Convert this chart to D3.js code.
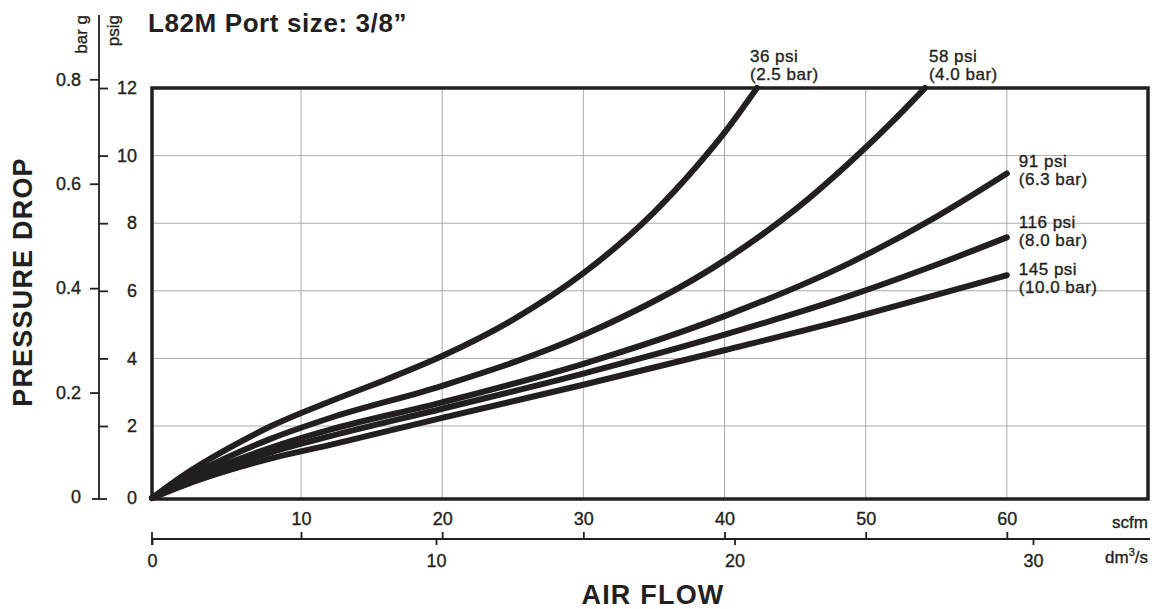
<!DOCTYPE html>
<html>
<head>
<meta charset="utf-8">
<script src="https://cdn.jsdelivr.net/npm/d3@7"></script>
<style>
  body { margin: 0; background: #fff; }
  text { font-family: "Liberation Sans", Arial, Helvetica, sans-serif; fill: #231f20; }
  .medium { stroke: #231f20; stroke-width: 0.35px; }
</style>
</head>
<body>
<svg id="chart" width="1152" height="609"></svg>
<script>
// curve names and their bar equivalents
var pressures = ["36 psi", "58 psi", "91 psi", "116 psi", "145 psi"];
var barNames = ["(2.5 bar)", "(4.0 bar)", "(6.3 bar)", "(8.0 bar)", "(10.0 bar)"];

// air flow (scfm) vs pressure drop (psig)
var flow36 = [0, 2, 5, 8, 12, 16, 20, 25, 30, 35, 38, 40, 42.3];
var drop36 = [0, 0.6, 1.35, 2.0, 2.72, 3.37, 4.07, 5.14, 6.52, 8.32, 9.67, 10.68, 12];

var flow58 = [0, 2, 5, 8, 12, 20, 30, 40, 45, 49, 52, 54.2];
var drop58 = [0, 0.5, 1.12, 1.65, 2.23, 3.19, 4.69, 6.9, 8.4, 9.85, 11.05, 12];

var flow91 = [0, 2, 5, 8, 12, 20, 30, 40, 49, 55, 60];
var drop91 = [0, 0.42, 0.95, 1.4, 1.89, 2.70, 3.84, 5.25, 6.85, 8.19, 9.47];

var flow116 = [0, 2, 5, 8, 12, 20, 30, 40, 49, 55, 60];
var drop116 = [0, 0.38, 0.86, 1.27, 1.71, 2.51, 3.55, 4.70, 5.87, 6.77, 7.58];

var flow145 = [0, 2, 5, 8, 12, 20, 30, 40, 49, 55, 60];
var drop145 = [0, 0.33, 0.75, 1.1, 1.47, 2.24, 3.22, 4.24, 5.19, 5.88, 6.46];

// axis ticks
var psigTicks = [0, 2, 4, 6, 8, 10, 12];
var barTicks = [0, 0.2, 0.4, 0.6, 0.8];
var scfmTicks = [10, 20, 30, 40, 50, 60];
var dm3Ticks = [0, 10, 20, 30];

//////////////////////////////////////////////////////////////////////////////

var svg = d3.select("#chart");
var ink = "#231f20";

var frame = { left: 152, right: 1148, top: 88, bottom: 499 };

// the printed scales are not quite linear, so anchor them where the scan puts them
var x = d3.scaleLinear().domain([0, 10, 70]).range([frame.left, 301, frame.right]);
var y = d3.scaleLinear().domain([0, 2, 12]).range([498, 426, frame.top]);
var yBar = d3.scaleLinear().domain([0, 0.8]).range([497, 79.3]);
var xDm3 = d3.scaleLinear().domain([0, 10, 30]).range([frame.left, 436, 1033]);

var series = [
  { flow: flow36, drop: drop36 },
  { flow: flow58, drop: drop58 },
  { flow: flow91, drop: drop91 },
  { flow: flow116, drop: drop116 },
  { flow: flow145, drop: drop145 }
];
series.forEach(function(s, i){
  s.name = pressures[i];
  s.bar = barNames[i];
  s.points = s.flow.map(function(f, j){ return [f, s.drop[j]]; });
});

// grid
svg.append("g").selectAll("line")
    .data(scfmTicks)
    .enter().append("line")
    .attr("x1", function(d){ return x(d); })
    .attr("x2", function(d){ return x(d); })
    .attr("y1", frame.top)
    .attr("y2", frame.bottom)
    .attr("stroke", "#a7a9ac")
    .attr("stroke-width", 1);

svg.append("g").selectAll("line")
    .data(psigTicks.filter(function(d){ return d > 0 && d < 12; }))
    .enter().append("line")
    .attr("x1", frame.left)
    .attr("x2", frame.right)
    .attr("y1", function(d){ return y(d); })
    .attr("y2", function(d){ return y(d); })
    .attr("stroke", "#a7a9ac")
    .attr("stroke-width", 1);

// curves
var line = d3.line()
    .x(function(d){ return x(d[0]); })
    .y(function(d){ return y(d[1]); })
    .curve(d3.curveMonotoneX);

svg.append("g").selectAll("path")
    .data(series)
    .enter().append("path")
    .attr("d", function(d){ return line(d.points); })
    .attr("fill", "none")
    .attr("stroke", ink)
    .attr("stroke-width", 6)
    .attr("stroke-linecap", "round");

// frame
svg.append("rect")
    .attr("x", frame.left)
    .attr("y", frame.top)
    .attr("width", frame.right - frame.left)
    .attr("height", frame.bottom - frame.top)
    .attr("fill", "none")
    .attr("stroke", ink)
    .attr("stroke-width", 3.5);

// curve labels: the two steep ones above the frame, the rest to the right
var labelPos = [
  { dx: -7, top: true },
  { dx: 4, top: true },
  { dx: 12, dy: -7 },
  { dx: 12, dy: -9 },
  { dx: 12, dy: 0 }
];

var labels = svg.append("g").selectAll("text")
    .data(series)
    .enter().append("text")
    .attr("class", "medium")
    .style("font-size", "17px")
    .style("letter-spacing", "0.5px")
    .attr("transform", function(d, i){
      var end = d.points[d.points.length - 1];
      var p = labelPos[i];
      var lx = x(end[0]) + p.dx;
      var ly = p.top ? 62 : y(end[1]) + p.dy;
      return "translate(" + lx + "," + ly + ")";
    });
labels.append("tspan").attr("x", 0).attr("y", 0).text(function(d){ return d.name; });
labels.append("tspan").attr("x", 0).attr("y", 18).text(function(d){ return d.bar; });

// left axes: bar g on the left of the rule, psig on the right
var axisX = 99;
svg.append("line")
    .attr("x1", axisX).attr("x2", axisX)
    .attr("y1", 15).attr("y2", 499)
    .attr("stroke", ink).attr("stroke-width", 1.8);
svg.append("line")
    .attr("x1", 92).attr("x2", 107)
    .attr("y1", 499).attr("y2", 499)
    .attr("stroke", ink).attr("stroke-width", 1.8);

var psigAxis = svg.append("g")
    .attr("transform", "translate(" + axisX + ",0)")
    .call(d3.axisRight(y).tickValues(psigTicks).tickSize(9).tickFormat(d3.format("d")));
psigAxis.select(".domain").remove();
psigAxis.selectAll(".tick").filter(function(d){ return d === 0; }).select("line").remove();
psigAxis.selectAll(".tick line").attr("stroke", ink).attr("stroke-width", 1.8);
psigAxis.selectAll(".tick text")
    .attr("x", 38)
    .attr("text-anchor", "end");

var barAxis = svg.append("g")
    .attr("transform", "translate(" + axisX + ",0)")
    .call(d3.axisLeft(yBar).tickValues(barTicks).tickSize(9).tickPadding(9).tickFormat(function(d){ return d === 0 ? "0" : d3.format(".1f")(d); }));
barAxis.select(".domain").remove();
barAxis.selectAll(".tick").filter(function(d){ return d === 0; }).select("line").remove();
barAxis.selectAll(".tick line").attr("stroke", ink).attr("stroke-width", 1.8);

// bottom axes: scfm above the rule, dm3/s below it
var axisY = 539;
svg.append("line")
    .attr("x1", frame.left).attr("x2", 1150)
    .attr("y1", axisY).attr("y2", axisY)
    .attr("stroke", ink).attr("stroke-width", 1.8);
svg.append("line")
    .attr("x1", frame.left).attr("x2", frame.left)
    .attr("y1", 532).attr("y2", 545)
    .attr("stroke", ink).attr("stroke-width", 1.8);

var scfmAxis = svg.append("g")
    .attr("transform", "translate(0," + axisY + ")")
    .call(d3.axisTop(x).tickValues(scfmTicks).tickSize(7).tickPadding(7));
scfmAxis.select(".domain").remove();
scfmAxis.selectAll(".tick line").attr("stroke", ink).attr("stroke-width", 1.8);

var dm3Axis = svg.append("g")
    .attr("transform", "translate(0," + axisY + ")")
    .call(d3.axisBottom(xDm3).tickValues(dm3Ticks).tickSize(6).tickPadding(9));
dm3Axis.select(".domain").remove();
dm3Axis.selectAll(".tick line").attr("stroke", ink).attr("stroke-width", 1.8);

svg.selectAll(".tick text")
    .attr("class", "medium")
    .attr("fill", ink)
    .style("font-size", "18px")
    .style("font-family", "\"Liberation Sans\", Arial, sans-serif");

// unit labels
svg.append("text")
    .attr("class", "medium")
    .attr("x", 1148).attr("y", 528)
    .attr("text-anchor", "end")
    .style("font-size", "17px")
    .text("scfm");

var dm3Label = svg.append("text")
    .attr("class", "medium")
    .attr("x", 1148).attr("y", 563)
    .attr("text-anchor", "end")
    .style("font-size", "17px");
dm3Label.append("tspan").text("dm");
dm3Label.append("tspan").attr("dy", -7).style("font-size", "11px").text("3");
dm3Label.append("tspan").attr("dy", 7).text("/s");

svg.append("text")
    .attr("class", "medium")
    .attr("transform", "translate(87,15) rotate(-90)")
    .attr("text-anchor", "end")
    .style("font-size", "17px")
    .text("bar g");

svg.append("text")
    .attr("class", "medium")
    .attr("transform", "translate(119,15) rotate(-90)")
    .attr("text-anchor", "end")
    .style("font-size", "17px")
    .text("psig");

// titles
svg.append("text")
    .attr("x", 148).attr("y", 32)
    .style("font-size", "26px")
    .style("font-weight", "bold")
    .style("letter-spacing", "0.6px")
    .text("L82M Port size: 3/8\u201d");

svg.append("text")
    .attr("transform", "translate(32,282) rotate(-90)")
    .attr("text-anchor", "middle")
    .style("font-size", "27px")
    .style("font-weight", "bold")
    .style("letter-spacing", "1.2px")
    .text("PRESSURE DROP");

svg.append("text")
    .attr("x", 653).attr("y", 604)
    .attr("text-anchor", "middle")
    .style("font-size", "27px")
    .style("font-weight", "bold")
    .style("letter-spacing", "1.2px")
    .text("AIR FLOW");
</script>
</body>
</html>
